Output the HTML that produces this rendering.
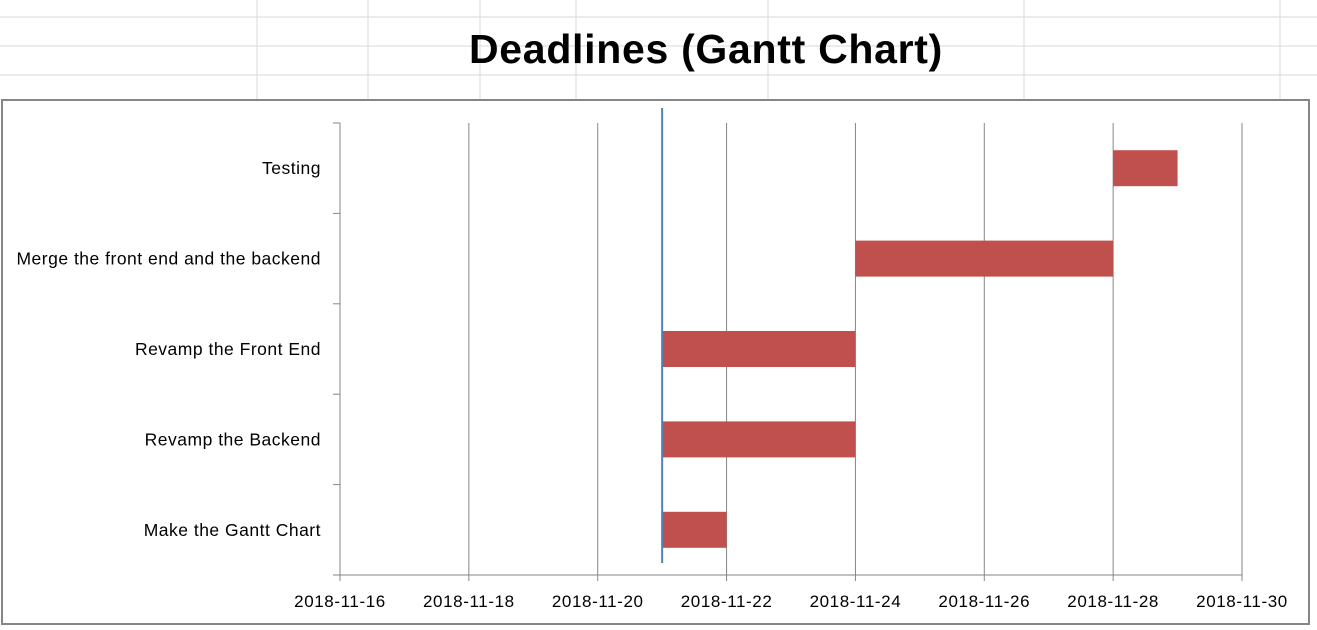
<!DOCTYPE html>
<html><head><meta charset="utf-8"><style>
body{margin:0;width:1317px;height:625px;overflow:hidden;background:#fff;font-family:"Liberation Sans",sans-serif}
</style></head><body>
<svg id="c" width="1317" height="625" xmlns="http://www.w3.org/2000/svg"></svg>
<script>
const categories=["Make the Gantt Chart","Revamp the Backend","Revamp the Front End","Merge the front end and the backend","Testing"];
const startDays=[21,21,21,24,28];
const endDays=[22,24,24,28,29];
const tickDays=[16,18,20,22,24,26,28,30];
const todayDay=21;
const svg=document.getElementById('c');const NS='http://www.w3.org/2000/svg';
function mk(t,a,p){const e=document.createElementNS(NS,t);for(const k in a)e.setAttribute(k,a[k]);(p||svg).appendChild(e);return e;}
[17,46,75].forEach(y=>{const l=mk('line',{x1:0,x2:1317,y1:y,y2:y,stroke:'#dadada'});});
[257,368,480,576,768,1024,1280].forEach(x=>{const l=mk('line',{x1:x,x2:x,y1:0,y2:100,stroke:'#dadada'});});
const title=mk('text',{x:706,y:63,'text-anchor':'middle','font-size':41,'font-weight':'bold',fill:'#000','letter-spacing':0.7});title.textContent='Deadlines (Gantt Chart)';

const frame=mk('rect',{x:2,y:100,width:1307,height:524,fill:'#fff',stroke:'#868686','stroke-width':2});

const X0=340,X1=1242,Y0=123,Y1=575;
const xs=d=>X0+(d-16)/(30-16)*(X1-X0);
const band=(Y1-Y0)/categories.length;
const yc=i=>Y1-band*(i+0.5);
tickDays.forEach((d,i)=>{const x=xs(d);
 if(i>0){const g=mk('line',{x1:x,x2:x,y1:Y0,y2:Y1,stroke:'#868686'});}
 const tk=mk('line',{x1:x,x2:x,y1:Y1,y2:Y1+6,stroke:'#868686'});
 const t=mk('text',{x:x,y:607,'text-anchor':'middle','font-size':17,fill:'#000','letter-spacing':0.6});t.textContent='2018-11-'+d;
 });
const ya=mk('line',{x1:X0,x2:X0,y1:Y0,y2:Y1,stroke:'#868686'});
const xa=mk('line',{x1:X0,x2:X1,y1:Y1,y2:Y1,stroke:'#868686'});
for(let i=0;i<=categories.length;i++){const y=Y1-band*i;const t=mk('line',{x1:X0-7,x2:X0,y1:y,y2:y,stroke:'#868686'});}
categories.forEach((c,i)=>{
 const t=mk('text',{x:321,y:yc(i)+6,'text-anchor':'end','font-size':17.5,fill:'#000','letter-spacing':0.5});t.textContent=c;
 
 const b=mk('rect',{x:xs(startDays[i]),y:yc(i)-18,width:xs(endDays[i])-xs(startDays[i]),height:36,fill:'#c0504d'});
 });
const tl=mk('line',{x1:xs(todayDay),x2:xs(todayDay),y1:108,y2:563,stroke:'#4f81bd','stroke-width':2});

</script>
</body></html>
